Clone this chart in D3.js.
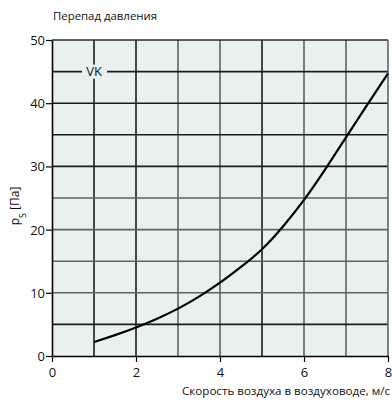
<!DOCTYPE html>
<html><head><meta charset="utf-8">
<script src="https://cdn.jsdelivr.net/npm/d3@7"></script>
<style>body{margin:0;background:#fff}svg{display:block}text{font-family:"Open Sans",sans-serif;fill:#111}</style>
</head><body><svg id="c" width="392" height="400"></svg>
<script>
const speed = [1,1.5,2,2.5,3,3.5,4,4.5,5,5.5,6,6.5,7,7.5,8];
const pressure = [2.2,3.3,4.5,5.9,7.5,9.4,11.6,14.1,16.9,20.5,24.7,29.5,34.6,39.7,44.7];
const xTicks = [0,2,4,6,8];
const yTicks = [0,10,20,30,40,50];
const xGrid = [1,2,3,4,5,6,7];
const yGrid = [5,10,15,20,25,30,35,40,45];
const darkX = [1,2,5];
const darkY = [5,30,35,40,45];
const title = "Перепад давления";
const xLabel = "Скорость воздуха в воздуховоде, м/с";
const seriesLabel = "VK";

const svg = d3.select("#c");
const L=52,R=388,T=40,B=356;
const x = d3.scaleLinear().domain([0,8]).range([L,R]);
const y = d3.scaleLinear().domain([0,50]).range([B,T]);

svg.append("rect").attr("x",L).attr("y",T).attr("width",R-L).attr("height",B-T).attr("fill","#e8f0f0");

const g = svg.append("g");
g.selectAll(".vx").data(xGrid).join("line")
  .attr("x1",d=>x(d)).attr("x2",d=>x(d)).attr("y1",T).attr("y2",B)
  .attr("stroke",d=>darkX.includes(d)?"#1a1d1c":"#5c6563").attr("stroke-width",1.6);
g.selectAll(".hy").data(yGrid).join("line")
  .attr("y1",d=>y(d)).attr("y2",d=>y(d)).attr("x1",L).attr("x2",R)
  .attr("stroke",d=>darkY.includes(d)?"#1a1d1c":"#5c6563").attr("stroke-width",1.6);
svg.append("line").attr("x1",L).attr("x2",R).attr("y1",T).attr("y2",T).attr("stroke","#2a2e2d").attr("stroke-width",1.6);
svg.append("line").attr("x1",R).attr("x2",R).attr("y1",T).attr("y2",B).attr("stroke","#5c6563").attr("stroke-width",1.6);

svg.append("path").datum(speed.map((s,i)=>[s,pressure[i]]))
  .attr("d",d3.line().x(d=>x(d[0])).y(d=>y(d[1])).curve(d3.curveNatural))
  .attr("fill","none").attr("stroke","#000").attr("stroke-width",2.2);

const ax = svg.append("g").attr("transform",`translate(0,${B})`)
  .call(d3.axisBottom(x).tickValues(xTicks).tickFormat(d3.format("d")).tickSize(6).tickSizeOuter(0));
const ay = svg.append("g").attr("transform",`translate(${L},0)`)
  .call(d3.axisLeft(y).tickValues(yTicks).tickFormat(d3.format("d")).tickSize(6).tickSizeOuter(0));
[ax,ay].forEach(a=>{
  a.select(".domain").attr("stroke","#000").attr("stroke-width",1.6);
  a.selectAll(".tick line").attr("stroke","#000").attr("stroke-width",1.2);
  a.selectAll("text").style("font-family","'Open Sans',sans-serif").style("font-size","13px").attr("fill","#111");
});
ax.selectAll("text").attr("dy","0.9em");
ay.selectAll("text").attr("x",-7).attr("dy","0.35em");

const vk = svg.append("g");
vk.append("rect").attr("x",x(1)-12).attr("y",y(45)-7).attr("width",25).attr("height",14).attr("fill","#e8f0f0");
vk.append("text").attr("x",x(1)).attr("y",y(45)).attr("dy","0.36em").attr("text-anchor","middle")
  .style("font-size","13px").text(seriesLabel);

svg.append("text").attr("x",53).attr("y",20).style("font-size","11.4px").text(title);
svg.append("text").attr("x",390).attr("y",395).attr("text-anchor","end").style("font-size","11.6px").text(xLabel);

const yl = svg.append("text").attr("transform","translate(19,206) rotate(-90)").attr("text-anchor","middle").style("font-size","12px");
yl.append("tspan").text("p");
yl.append("tspan").attr("baseline-shift","sub").style("font-size","9px").text("S");
yl.append("tspan").text(" [Па]");
</script></body></html>
